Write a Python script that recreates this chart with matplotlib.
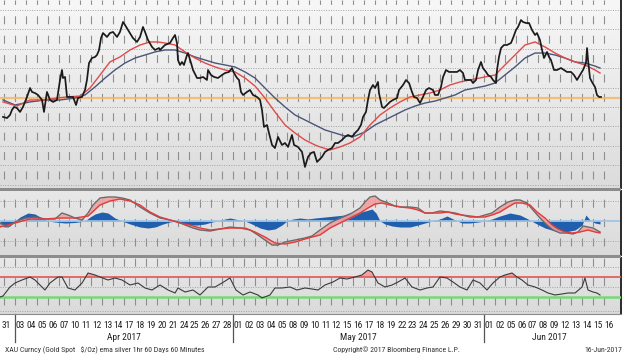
import numpy as np
import matplotlib
matplotlib.use('Agg')
import matplotlib.pyplot as plt
import matplotlib.transforms as mtrans
from matplotlib import font_manager as fm
from matplotlib.colors import LinearSegmentedColormap
from matplotlib.patches import Rectangle
from matplotlib.lines import Line2D

# ---------------- data (x = trading-day index, 0 = 31 Mar 2017) ----------------
day_labels = ['31', '03', '04', '05', '06', '07', '10', '11', '12', '13', '14', '17', '18', '19', '20',
              '21', '24', '25', '26', '27', '28', '01', '02', '03', '04', '05', '08', '09', '10', '11',
              '12', '15', '16', '17', '18', '19', '22', '23', '24', '25', '26', '29', '30', '31', '01',
              '02', '05', '06', '07', '08', '09', '12', '13', '14', '15', '16']
month_labels = ['Apr 2017', 'May 2017', 'Jun 2017']
month_starts = [1, 21, 44]
month_ends = [21, 44, 56]

price_t = [-0.09, 0.28, 0.55, 0.73, 0.92, 1.19, 1.47, 1.74, 2.11, 2.39, 2.57, 2.84, 3.12, 3.49, 3.67,
           3.94, 4.22, 4.50, 4.86, 5.14, 5.32, 5.41, 5.60, 5.78, 6.06, 6.33, 6.61, 6.79, 7.16, 7.43,
           7.61, 7.80, 8.07, 8.35, 8.53, 8.72, 8.90, 9.08, 9.45, 9.72, 10.00, 10.37, 10.64, 10.92,
           11.10, 11.38, 11.65, 11.83, 12.20, 12.48, 12.75, 12.94, 13.21, 13.58, 13.85, 14.22, 14.31,
           14.77, 15.23, 15.50, 15.69, 15.87, 15.96, 16.15, 16.33, 16.51, 16.79, 16.88, 17.16, 17.34,
           17.71, 17.98, 18.26, 18.62, 18.72, 18.99, 19.27, 19.63, 20.00, 20.28, 20.64, 20.92, 21.10,
           21.38, 21.56, 21.74, 21.93, 22.29, 22.57, 22.84, 23.21, 23.49, 23.67, 23.85, 24.13, 24.31,
           24.59, 24.86, 25.14, 25.50, 25.78, 26.06, 26.42, 26.61, 26.97, 27.34, 27.61, 27.89, 28.17,
           28.44, 28.72, 28.90, 29.17, 29.45, 29.72, 30.09, 30.37, 30.64, 31.01, 31.28, 31.56, 31.93,
           32.20, 32.48, 32.75, 32.94, 33.21, 33.39, 33.58, 33.85, 34.04, 34.31, 34.40, 34.68, 34.86,
           35.14, 35.41, 35.69, 36.06, 36.24, 36.61, 36.88, 37.16, 37.43, 37.61, 37.89, 38.17, 38.44,
           38.72, 38.99, 39.36, 39.54, 39.82, 40.09, 40.28, 40.55, 40.83, 41.19, 41.56, 41.83, 42.11,
           42.29, 42.57, 42.84, 43.03, 43.30, 43.49, 43.76, 43.94, 44.22, 44.40, 44.68, 44.86, 45.14,
           45.23, 45.41, 45.60, 45.87, 46.15, 46.51, 46.70, 46.97, 47.16, 47.43, 47.61, 47.89, 48.17,
           48.44, 48.72, 48.90, 49.17, 49.36, 49.54, 49.82, 50.00, 50.18, 50.46, 50.73, 51.10, 51.38,
           51.65, 52.02, 52.29, 52.57, 52.84, 53.12, 53.39, 53.49, 53.58, 53.76, 53.94, 54.22, 54.40,
           54.59, 54.77]
price = [1241.5, 1240.9, 1242.6, 1245.4, 1247.1, 1246.5, 1244.3, 1247.1, 1252.7, 1257.7, 1255.5,
         1254.9, 1253.8, 1251.0, 1244.3, 1255.5, 1251.0, 1249.9, 1251.0, 1262.2, 1267.8, 1263.3,
         1263.9, 1252.7, 1252.7, 1252.7, 1248.2, 1252.1, 1252.7, 1256.6, 1262.2, 1271.7, 1274.5,
         1275.1, 1276.2, 1279.0, 1285.7, 1288.5, 1286.3, 1288.5, 1289.1, 1286.3, 1289.1, 1294.7,
         1293.0, 1290.2, 1287.4, 1285.7, 1283.5, 1286.3, 1291.9, 1289.1, 1284.6, 1280.7, 1279.0,
         1280.1, 1279.0, 1281.8, 1282.9, 1285.7, 1287.4, 1282.9, 1273.4, 1270.6, 1272.3, 1270.6,
         1276.2, 1277.3, 1271.7, 1267.8, 1263.3, 1263.3, 1263.9, 1262.2, 1267.8, 1265.0, 1263.9,
         1263.3, 1265.0, 1266.1, 1266.7, 1268.9, 1266.1, 1263.3, 1262.2, 1255.5, 1253.8, 1255.5,
         1256.6, 1253.8, 1252.7, 1251.0, 1245.4, 1235.9, 1237.0, 1232.5, 1225.8, 1224.1, 1230.3,
         1225.8, 1226.9, 1224.7, 1231.4, 1225.8, 1224.7, 1221.9, 1213.5, 1219.1, 1221.3, 1221.9,
         1216.3, 1217.4, 1219.1, 1221.9, 1223.0, 1224.1, 1226.9, 1226.9, 1228.6, 1230.3, 1231.4,
         1230.3, 1232.5, 1234.2, 1237.0, 1241.5, 1244.3, 1251.0, 1256.6, 1259.4, 1257.7, 1261.1,
         1254.9, 1247.1, 1246.5, 1248.2, 1249.9, 1251.0, 1252.1, 1256.6, 1259.4, 1262.2, 1260.5,
         1255.5, 1252.7, 1252.1, 1249.3, 1252.7, 1256.6, 1257.7, 1256.6, 1253.8, 1253.8, 1258.3,
         1263.9, 1267.8, 1266.7, 1266.7, 1266.7, 1267.8, 1266.1, 1262.2, 1262.2, 1262.2, 1260.5,
         1262.2, 1267.8, 1272.3, 1268.9, 1266.7, 1265.0, 1263.9, 1262.2, 1260.5, 1267.8, 1275.1,
         1280.1, 1281.8, 1281.8, 1282.9, 1285.7, 1290.2, 1291.9, 1295.8, 1294.7, 1294.1, 1294.1,
         1290.2, 1287.4, 1288.5, 1284.6, 1279.0, 1274.5, 1277.9, 1275.1, 1273.4, 1267.8, 1267.8,
         1268.9, 1267.8, 1266.7, 1266.7, 1265.0, 1262.2, 1265.0, 1267.8, 1271.7, 1280.1, 1273.4,
         1263.3, 1261.1, 1258.3, 1253.8, 1252.7, 1252.7]

ema_fast_t = [-0.09, 1.19, 2.39, 3.76, 4.86, 5.78, 6.97, 7.89, 8.81, 9.72, 10.64, 11.56, 12.48, 13.39,
              14.13, 14.77, 15.69, 16.61, 17.52, 18.44, 19.36, 20.28, 21.19, 22.11, 23.03, 23.94,
              24.86, 25.78, 26.70, 27.61, 28.53, 28.99, 29.91, 30.83, 31.74, 32.66, 33.58, 34.50,
              35.41, 36.33, 37.25, 38.17, 39.08, 40.00, 40.92, 41.83, 42.75, 44.13, 45.05, 45.96,
              46.88, 47.80, 48.72, 49.63, 50.55, 51.47, 52.39, 53.30, 54.22, 54.68]
ema_fast = [1249.9, 1247.6, 1251.0, 1251.0, 1252.1, 1252.7, 1253.2, 1257.7, 1265.0, 1272.3, 1275.1,
            1279.0, 1281.8, 1283.5, 1283.5, 1282.9, 1281.8, 1277.9, 1274.5, 1271.7, 1269.5, 1267.8,
            1266.7, 1263.3, 1258.8, 1252.1, 1244.3, 1237.0, 1232.5, 1228.6, 1225.8, 1224.7, 1223.0,
            1224.7, 1226.9, 1230.3, 1237.0, 1242.6, 1246.5, 1249.9, 1252.7, 1253.8, 1254.9, 1256.6,
            1259.4, 1261.1, 1262.2, 1263.9, 1265.0, 1270.6, 1276.2, 1281.8, 1283.5, 1280.7, 1277.3,
            1274.5, 1272.3, 1270.6, 1267.8, 1266.1]

ema_slow_t = [-0.09, 1.01, 2.39, 3.76, 5.14, 6.51, 7.43, 8.35, 9.27, 10.18, 11.10, 12.02, 12.94, 13.85,
              14.77, 15.69, 16.61, 17.52, 18.44, 19.36, 20.28, 21.19, 22.11, 23.03, 23.94, 24.86,
              25.78, 26.70, 27.61, 28.53, 29.45, 30.37, 31.28, 32.20, 33.12, 34.04, 34.95, 35.87,
              36.79, 37.71, 38.62, 39.54, 40.46, 41.38, 42.29, 43.21, 44.13, 45.05, 45.96, 46.88,
              47.80, 48.72, 49.63, 50.55, 51.47, 52.39, 53.30, 54.22, 54.68]
ema_slow = [1251.0, 1248.2, 1249.9, 1251.0, 1251.0, 1252.1, 1253.8, 1258.3, 1263.3, 1267.8, 1271.7,
            1274.5, 1276.2, 1277.9, 1279.0, 1279.0, 1277.3, 1275.1, 1273.4, 1271.7, 1270.6, 1269.5,
            1266.7, 1263.3, 1257.7, 1252.1, 1247.1, 1242.6, 1239.8, 1237.0, 1234.2, 1232.5, 1230.8,
            1230.8, 1233.1, 1237.0, 1239.8, 1242.6, 1245.4, 1247.6, 1249.3, 1250.4, 1252.1, 1253.8,
            1256.6, 1257.7, 1258.8, 1260.5, 1265.0, 1269.5, 1274.5, 1277.3, 1277.3, 1276.2, 1274.5,
            1272.3, 1271.7, 1270.0, 1268.9]

last_price_level = 1252.1

macd_t = [-0.37, 0.37, 1.01, 1.93, 2.84, 3.76, 4.68, 5.32, 5.87, 6.51, 7.16, 7.71, 8.17, 8.81, 9.54,
          10.18, 10.83, 11.56, 12.48, 13.39, 14.31, 15.23, 15.96, 16.61, 17.34, 17.98, 18.90, 19.82,
          20.73, 21.65, 22.57, 23.30, 23.94, 24.59, 25.14, 25.78, 26.70, 27.61, 28.26, 28.99, 29.91,
          30.83, 31.93, 32.66, 33.12, 33.58, 34.04, 34.50, 35.23, 35.87, 36.51, 37.25, 37.98, 38.62,
          39.27, 40.00, 40.73, 41.38, 42.02, 42.75, 43.49, 44.13, 44.77, 45.50, 46.24, 46.88, 47.34,
          47.98, 48.53, 49.17, 49.82, 50.37, 51.01, 51.65, 52.20, 52.66, 53.12, 53.58, 54.04, 54.68]
macd = [-0.4, -1.2, -0.2, 0.6, 0.8, 0.4, 0.4, 1.6, 1.2, 0.6, 0.2, 1.6, 3.2, 4.6, 4.8, 4.8, 4.6, 4.2,
        2.8, 1.6, 0.6, 0.2, -0.2, -0.8, -1.4, -1.8, -2.0, -1.6, -1.2, -1.4, -1.8, -2.8, -3.8, -4.8,
        -4.8, -4.2, -3.8, -3.4, -3.0, -1.8, -0.4, 0.6, 1.6, 2.6, 3.8, 4.8, 5.0, 4.2, 3.6, 3.0, 2.8,
        2.8, 2.6, 1.6, 1.6, 2.0, 1.8, 1.6, 1.2, 0.8, 0.8, 1.2, 1.6, 2.8, 3.8, 4.2, 4.2, 3.6, 2.2,
        0.6, -0.8, -1.8, -2.4, -2.4, -2.6, -2.2, -1.0, -1.2, -1.4, -2.2]

signal_t = [-0.37, 1.01, 2.39, 3.76, 5.14, 6.51, 7.71, 8.81, 9.72, 10.64, 11.56, 12.48, 13.39, 14.31,
            15.23, 16.15, 17.06, 17.98, 18.90, 19.82, 20.73, 22.11, 23.03, 23.94, 24.86, 25.78, 26.70,
            27.61, 28.26, 28.99, 29.91, 30.83, 31.93, 32.66, 33.39, 34.04, 34.68, 35.41, 36.33, 37.25,
            37.98, 38.62, 39.27, 40.00, 40.73, 41.38, 42.02, 42.75, 43.49, 44.13, 44.77, 45.50, 46.24,
            46.88, 47.52, 48.26, 48.90, 49.63, 50.28, 50.83, 51.47, 52.11, 52.84, 53.58, 54.22, 54.68]
signal = [-1.2, -0.4, 0.4, 0.4, 0.6, 0.6, 1.0, 3.2, 4.0, 4.4, 4.0, 3.2, 1.8, 0.8, 0.2, -0.4, -0.8,
          -1.4, -1.8, -1.6, -1.4, -1.4, -2.2, -3.2, -4.4, -4.6, -4.2, -3.6, -3.2, -2.8, -1.4, -0.4,
          0.8, 1.6, 2.6, 3.4, 3.6, 3.2, 2.8, 2.6, 2.2, 1.6, 1.6, 1.6, 1.8, 1.4, 1.2, 1.0, 0.8, 0.8,
          1.2, 1.8, 2.8, 3.6, 3.6, 3.2, 1.8, 0.6, -0.8, -1.6, -2.2, -2.4, -2.2, -1.8, -2.2, -2.4]

hist_t = [-0.37, 0.09, 0.55, 1.01, 1.47, 2.20, 2.84, 3.49, 4.04, 4.68, 5.60, 6.51, 7.43, 7.89, 8.35,
          8.99, 9.54, 10.18, 10.83, 11.56, 12.48, 13.21, 13.85, 14.59, 15.23, 15.69, 16.15, 17.06,
          17.80, 18.44, 19.08, 19.63, 20.28, 20.73, 21.38, 22.11, 22.75, 23.49, 24.22, 24.86, 25.50,
          25.96, 26.51, 27.16, 27.89, 28.53, 29.45, 30.37, 31.28, 32.20, 33.12, 33.76, 34.13, 34.50,
          34.95, 35.60, 36.33, 37.25, 37.98, 38.62, 39.27, 40.00, 40.64, 41.38, 42.02, 42.75, 43.49,
          44.13, 44.77, 45.50, 46.42, 47.34, 48.07, 48.72, 49.63, 50.55, 51.47, 52.39, 53.03, 53.39,
          53.76, 54.22, 54.68]
hist = [-1.0, -1.2, -1.0, 0.0, 0.8, 1.6, 1.4, 0.6, 0.0, -0.2, -0.4, -0.3, 0.0, 0.8, 1.4, 1.8, 1.6,
        0.6, 0.0, -0.6, -1.2, -1.4, -1.2, -0.6, -0.2, 0.0, -0.4, -0.8, -0.8, -0.6, -0.2, 0.0, 0.4,
        0.6, 0.3, 0.0, -0.6, -1.4, -1.8, -1.6, -0.8, 0.0, 0.4, 0.6, 0.4, 0.6, 0.8, 1.0, 1.2, 1.6, 2.0,
        2.4, 1.6, 0.0, -0.6, -1.0, -1.2, -1.2, -0.8, -0.4, 0.0, 0.4, 1.0, 0.2, -0.4, -0.4, -0.2, 0.0,
        0.4, 1.0, 1.6, 1.2, 0.4, -0.4, -1.4, -2.0, -2.2, -1.8, -0.8, 1.2, 0.2, -0.4, -0.6]

rsi_t = [-0.37, -0.09, 0.55, 1.01, 1.65, 2.39, 2.84, 3.30, 3.76, 4.22, 4.95, 5.32, 5.87, 6.51, 7.16,
         7.71, 8.35, 8.81, 9.54, 10.18, 10.83, 11.56, 12.29, 12.94, 13.58, 14.31, 15.05, 15.69, 15.96,
         16.61, 17.34, 17.98, 18.72, 19.36, 20.00, 20.73, 21.28, 21.93, 22.57, 23.30, 23.67, 24.40,
         24.86, 25.50, 26.24, 26.88, 27.61, 28.26, 28.81, 29.45, 30.18, 30.83, 31.47, 32.20, 32.84,
         33.39, 33.76, 34.31, 34.95, 35.60, 36.15, 36.79, 37.43, 38.17, 38.81, 39.36, 40.00, 40.64,
         41.19, 41.83, 42.48, 43.03, 43.67, 44.31, 44.86, 45.50, 45.96, 46.61, 47.06, 47.52, 48.07,
         48.72, 49.36, 49.91, 50.55, 51.19, 51.74, 52.39, 53.03, 53.30, 53.58, 54.04, 54.40, 54.68]
rsi = [30, 32, 50, 58, 64, 70, 64, 54, 44, 58, 70, 70, 48, 44, 58, 78, 74, 70, 64, 68, 64, 54, 58,
       48, 44, 54, 44, 38, 48, 40, 44, 34, 50, 50, 58, 68, 44, 34, 40, 34, 28, 34, 48, 48, 50, 44,
       48, 46, 44, 54, 60, 68, 66, 70, 74, 84, 80, 58, 50, 54, 60, 68, 50, 44, 48, 50, 70, 68, 60,
       50, 44, 64, 58, 44, 58, 70, 74, 78, 70, 64, 54, 50, 44, 38, 34, 36, 38, 38, 50, 68, 44, 40,
       38, 34]
rsi_upper = 70
rsi_lower = 30

footer_left = 'XAU Curncy (Gold Spot   $/Oz) ema silver 1hr 60 Days 60 Minutes'
footer_mid = 'Copyright\u00a9 2017 Bloomberg Finance L.P.'
footer_right = '16-Jun-2017'

# ---------------- font: prefer an installed narrow / condensed sans ----------------
def pick_narrow():
    prefs = []
    for f in fm.fontManager.ttflist:
        nm = f.name
        path = f.fname.lower()
        if f.style != 'normal' or f.weight not in (400, 'normal', 'regular'):
            continue
        score = None
        if 'Narrow' in nm and 'Liberation' in nm:
            score = 0
        elif 'condensed' in path and 'roboto' in path:
            score = 1
        elif 'condensed' in path and 'dejavusans' in path and 'bold' not in path and 'oblique' not in path:
            score = 2
        elif 'narrow' in path or ('condensed' in path and 'bold' not in path and 'italic' not in path):
            score = 3
        if score is not None:
            prefs.append((score, f.fname))
    if prefs:
        prefs.sort()
        return fm.FontProperties(fname=prefs[0][1]), True
    return fm.FontProperties(family=['Liberation Sans', 'DejaVu Sans']), False


LABEL_FP, IS_NARROW = pick_narrow()
LBL_SIZE = 6.8 if IS_NARROW else 5.9
FOOT_SIZE = 5.6 if IS_NARROW else 5.0

# ---------------- layout ----------------
W, H = 624, 364
fig = plt.figure(figsize=(W / 100, H / 100), dpi=100)
fig.patch.set_facecolor('white')


def px_axes(x0, y0, x1, y1):
    return fig.add_axes([x0 / W, 1 - y1 / H, (x1 - x0) / W, (y1 - y0) / H])


ax1 = px_axes(0, 0, 621, 188)
ax2 = px_axes(0, 191, 621, 255)
ax3 = px_axes(0, 258, 621, 314)

XMIN, XMAX = -4 / 10.9, 617 / 10.9
grad_top = LinearSegmentedColormap.from_list('g1', ['#dcdcdc', '#f7f7f7'])
grad_low = LinearSegmentedColormap.from_list('g2', ['#dadada', '#e8e8e8'])

# vertical grid: short dashes (~8 px on, ~11.4 px off) sitting between horizontal grid lines
VLW = 0.8
PX = 100 / 72 * VLW
VDASH = (10.4 / PX, (8.0 / PX, 11.4 / PX))

for ax, cm in ((ax1, grad_top), (ax2, grad_low), (ax3, grad_low)):
    ax.set_xlim(XMIN, XMAX)
    ax.imshow(np.linspace(0, 1, 64).reshape(-1, 1)[::-1], extent=[0, 1, 0, 1],
              transform=ax.transAxes, aspect='auto', cmap=cm, zorder=0)
    for s in ('left', 'top', 'bottom'):
        ax.spines[s].set_visible(False)
    ax.spines['right'].set_color('#2a2a2a')
    ax.spines['right'].set_linewidth(1.4)
    ax.set_yticks([])
    ax.tick_params(axis='x', which='both', length=0, labelbottom=False)
    for i in range(len(day_labels)):
        ax.axvline(i, color='#8e8e8e', lw=VLW, ls=VDASH, zorder=1)

# ---- price panel ----
ax1.set_ylim(1201.7, 1307)
for yv in np.arange(1301.4, 1200, -10.86):
    ax1.axhline(yv, color='#a4a4a4', lw=0.7, ls=(0, (1, 1.5)), zorder=1)
ax1.axhline(last_price_level, color='#f2b868', lw=1.6, alpha=0.85, zorder=2)
ax1.plot(ema_slow_t, ema_slow, color='#4a5578', lw=1.0, zorder=3)
ax1.plot(ema_fast_t, ema_fast, color='#e04a4a', lw=1.0, zorder=3)
ax1.plot(price_t, price, color='#1a1a1a', lw=1.25, zorder=4)

# ---- MACD panel ----
ax2.set_ylim(-6.8, 6.0)
for yv in (4.0, -4.0):
    ax2.axhline(yv, color='#a4a4a4', lw=0.7, ls=(0, (1, 1.5)), zorder=1)
ax2.fill_between(hist_t, 0, hist, color='#1f5fae', lw=0, zorder=2)
ax2.axhline(0, color='#9cc4e6', lw=1.2, zorder=2)
sig_on_macd = np.interp(macd_t, signal_t, signal)
ax2.fill_between(macd_t, macd, sig_on_macd, color='#f2a0a0', alpha=0.9, lw=0, zorder=3)
ax2.plot(macd_t, macd, color='#6a6a6a', lw=1.0, zorder=4)
ax2.plot(signal_t, signal, color='#e03c3c', lw=1.0, zorder=4)

# ---- RSI panel ----
ax3.set_ylim(-4, 108)
for yv in (90, 50, 2):
    ax3.axhline(yv, color='#a4a4a4', lw=0.7, ls=(0, (1, 1.5)), zorder=1)
rsi_arr = np.array(rsi, dtype=float)
ax3.fill_between(rsi_t, rsi_arr, rsi_upper, where=rsi_arr > rsi_upper, interpolate=True,
                 color='#f2a0a0', lw=0, zorder=2)
ax3.fill_between(rsi_t, rsi_arr, rsi_lower, where=rsi_arr < rsi_lower, interpolate=True,
                 color='#7fd67f', lw=0, zorder=2)
ax3.axhline(rsi_upper, color='#e06060', lw=1.3, zorder=3)
ax3.axhline(rsi_lower, color='#78d878', lw=1.8, zorder=3)
ax3.plot(rsi_t, rsi, color='#3a3a3a', lw=0.8, zorder=4)
ax3.spines['bottom'].set_visible(True)
ax3.spines['bottom'].set_color('#8a8a8a')
ax3.spines['bottom'].set_linewidth(0.8)

for y0, y1 in ((188, 191), (255, 258)):
    fig.add_artist(Rectangle((0, 1 - y1 / H), 621 / W, (y1 - y0) / H, transform=fig.transFigure,
                             facecolor='#8c8c8c', edgecolor='none'))

# ---- x labels ----
label_pos = np.arange(len(day_labels)) + 0.5
label_pos[0] = 0.2
trans = mtrans.blended_transform_factory(ax3.transData, ax3.transAxes)
for xp, lab in zip(label_pos, day_labels):
    ax3.text(xp, -0.2, lab, transform=trans, ha='center', va='center', fontproperties=LABEL_FP,
             fontsize=LBL_SIZE, color='#222222', clip_on=False)
for ms, me, ml in zip(month_starts, month_ends, month_labels):
    ax3.text((ms + me) / 2, -0.42, ml, transform=trans, ha='center', va='center',
             fontproperties=LABEL_FP, fontsize=LBL_SIZE, color='#222222', clip_on=False)
    ax3.add_line(Line2D([ms, ms], [0, -0.5], transform=trans, color='#555555', lw=0.9,
                        clip_on=False))

for xpx, txt, ha in ((5, footer_left, 'left'), (333, footer_mid, 'left'), (622, footer_right, 'right')):
    fig.text(xpx / W, 1 - 350 / H, txt, fontproperties=LABEL_FP, fontsize=FOOT_SIZE,
             color='#333333', ha=ha, va='center')

fig.savefig('out.png', dpi=100, facecolor='white')
